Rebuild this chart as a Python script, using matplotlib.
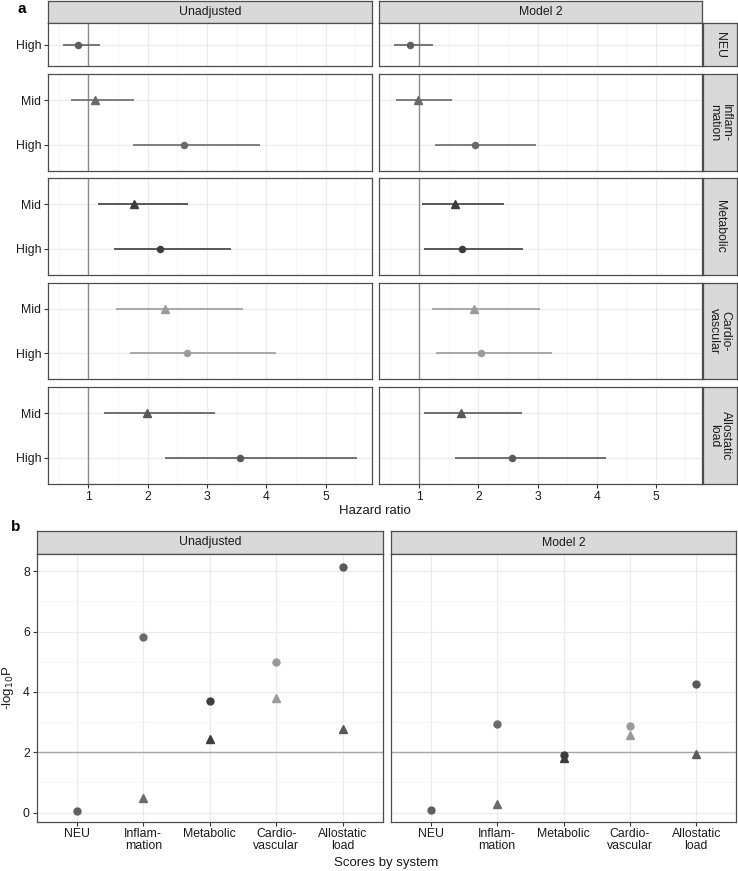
import numpy as np
import matplotlib
matplotlib.use("Agg")
import matplotlib.pyplot as plt
from matplotlib.ticker import MultipleLocator, FixedLocator

plt.rcParams['font.family'] = ['Liberation Sans', 'DejaVu Sans']

# ---------------- data ----------------
systems = ['NEU', 'Inflammation', 'Metabolic', 'Cardiovascular', 'Allostatic load']
strip_labels = ['NEU', 'Inflam-\nmation', 'Metabolic', 'Cardio-\nvascular', 'Allostatic\nload']
xtick_labels_b = ['NEU', 'Inflam-\nmation', 'Metabolic', 'Cardio-\nvascular', 'Allostatic\nload']
models = ['Unadjusted', 'Model 2']
levels = ['Mid', 'High']
nan = np.nan

hr_unadj_high = [0.82, 2.61, 2.20, 2.66, 3.56]
lo_unadj_high = [0.57, 1.75, 1.43, 1.70, 2.30]
hi_unadj_high = [1.19, 3.90, 3.40, 4.17, 5.53]
hr_unadj_mid = [nan, 1.11, 1.77, 2.29, 1.98]
lo_unadj_mid = [nan, 0.70, 1.17, 1.47, 1.26]
hi_unadj_mid = [nan, 1.77, 2.68, 3.60, 3.13]

hr_m2_high = [0.85, 1.94, 1.72, 2.05, 2.57]
lo_m2_high = [0.58, 1.27, 1.08, 1.29, 1.60]
hi_m2_high = [1.23, 2.97, 2.75, 3.25, 4.15]
hr_m2_mid = [nan, 0.98, 1.60, 1.92, 1.71]
lo_m2_mid = [nan, 0.61, 1.05, 1.21, 1.08]
hi_m2_mid = [nan, 1.56, 2.43, 3.04, 2.73]

logp_unadj_high = [0.07, 5.83, 3.70, 5.00, 8.15]
logp_unadj_mid = [nan, 0.50, 2.45, 3.80, 2.78]
logp_m2_high = [0.09, 2.93, 1.90, 2.87, 4.26]
logp_m2_mid = [nan, 0.29, 1.81, 2.56, 1.94]

hr_ticks = [1, 2, 3, 4, 5]
logp_ticks = [0, 2, 4, 6, 8]

sys_colors = ['#5f5f5f', '#6a6a6a', '#3d3d3d', '#9a9a9a', '#595959']

# ---------------- layout ----------------
W, H = 738, 871
fig = plt.figure(figsize=(W / 100, H / 100), dpi=100)

def ax_at(x0, y0, x1, y1):
    return fig.add_axes([x0 / W, 1 - y1 / H, (x1 - x0) / W, (y1 - y0) / H])

BORDER = '#4d4d4d'
GRID_MAJ = '#ebebeb'
GRID_MIN = '#f4f4f4'
TXT = '#1a1a1a'
FS = 8.8
FS_TITLE = 9.5

def style_panel(ax):
    ax.set_facecolor('white')
    for s in ax.spines.values():
        s.set_color(BORDER)
        s.set_linewidth(0.9)
    ax.tick_params(axis='both', which='major', length=3, width=0.8, color='#333333',
                   labelsize=FS, labelcolor=TXT, pad=2)
    ax.tick_params(axis='both', which='minor', length=0)
    ax.set_axisbelow(True)

def strip(x0, y0, x1, y1, text, rot=0):
    s = ax_at(x0, y0, x1, y1)
    s.set_facecolor('#d9d9d9')
    for sp in s.spines.values():
        sp.set_color(BORDER)
        sp.set_linewidth(0.9)
    s.set_xticks([]); s.set_yticks([])
    s.text(0.5, 0.5, text, ha='center', va='center', rotation=rot,
           fontsize=FS, color=TXT, transform=s.transAxes, linespacing=0.95)
    return s

# ---------- panel a ----------
col_x = [(48, 372), (379, 702)]
rows_y = [(23, 66.5), (74, 171), (178, 275), (283, 379), (387, 484)]
px_per_level = 44.4

data_a = [
    (hr_unadj_high, lo_unadj_high, hi_unadj_high, hr_unadj_mid, lo_unadj_mid, hi_unadj_mid),
    (hr_m2_high, lo_m2_high, hi_m2_high, hr_m2_mid, lo_m2_mid, hi_m2_mid),
]

for c, (x0, x1) in enumerate(col_x):
    strip(x0, 1, x1, 23, models[c])
    hh, hl, hu, mh, ml, mu = data_a[c]
    for r, (y0, y1) in enumerate(rows_y):
        ax = ax_at(x0, y0, x1, y1)
        style_panel(ax)
        ax.set_xlim(0.32, 5.78)
        span = (y1 - y0) / px_per_level
        if r > 0:
            ax.set_ylim(1.5 - span / 2, 1.5 + span / 2)
        else:
            ax.set_ylim(1 - span / 2, 1 + span / 2)
        ax.xaxis.set_major_locator(FixedLocator(hr_ticks))
        ax.xaxis.set_minor_locator(MultipleLocator(0.5))
        ax.grid(True, which='major', color=GRID_MAJ, lw=0.9)
        ax.grid(True, which='minor', axis='x', color=GRID_MIN, lw=0.6)
        ax.axvline(1, color='#8c8c8c', lw=1.0, zorder=1)
        col = sys_colors[r]
        ypos = []
        labs = []
        if not np.isnan(mh[r]):
            ax.hlines(2, ml[r], mu[r], color=col, lw=1.2, zorder=2)
            ax.plot([mh[r]], [2], marker='^', ms=5.2, color=col, ls='none', zorder=3)
            ypos.append(2); labs.append('Mid')
        ax.hlines(1, hl[r], hu[r], color=col, lw=1.2, zorder=2)
        ax.plot([hh[r]], [1], marker='o', ms=4.4, color=col, ls='none', zorder=3)
        ypos.append(1); labs.append('High')
        ax.set_yticks(ypos)
        if c == 0:
            ax.set_yticklabels(labs)
        else:
            ax.tick_params(axis='y', length=0, labelleft=False)
        if r == len(rows_y) - 1:
            ax.set_xticklabels([str(t) for t in hr_ticks])
        else:
            ax.tick_params(axis='x', length=0, labelbottom=False)
        if c == 1:
            strip(703, y0, 737, y1, strip_labels[r], rot=-90)

fig.text(375 / W, 1 - 511 / H, 'Hazard ratio', ha='center', va='center', fontsize=FS_TITLE, color=TXT)
fig.text(18 / W, 1 - 9 / H, 'a', ha='left', va='center', fontsize=11, fontweight='bold')

# ---------- panel b ----------
colb_x = [(36.7, 383), (391, 736)]
data_b = [(logp_unadj_high, logp_unadj_mid), (logp_m2_high, logp_m2_mid)]
xs = np.arange(1, len(systems) + 1)
for c, (x0, x1) in enumerate(colb_x):
    strip(x0, 531, x1, 554, models[c])
    ax = ax_at(x0, 554, x1, 821.7)
    style_panel(ax)
    ax.set_xlim(0.4, 5.6)
    ax.set_ylim(-0.3, 8.57)
    ax.set_xticks(xs)
    ax.set_xticklabels(xtick_labels_b, linespacing=1.05)
    ax.tick_params(axis='x', pad=1.5)
    ax.yaxis.set_major_locator(FixedLocator(logp_ticks))
    ax.yaxis.set_minor_locator(MultipleLocator(1))
    ax.grid(True, which='major', color=GRID_MAJ, lw=0.9)
    ax.grid(True, which='minor', axis='y', color=GRID_MIN, lw=0.6)
    ax.axhline(2, color='#a6a6a6', lw=1.0, zorder=1)
    high, mid = data_b[c]
    for i in range(len(systems)):
        if not np.isnan(mid[i]):
            ax.plot([xs[i]], [mid[i]], marker='^', ms=6, color=sys_colors[i], ls='none', zorder=3)
        ax.plot([xs[i]], [high[i]], marker='o', ms=5, color=sys_colors[i], ls='none', zorder=3)
    if c == 0:
        ax.set_yticklabels([str(t) for t in logp_ticks])
        ax.set_ylabel('-log$_{10}$P', fontsize=FS_TITLE, color=TXT, labelpad=5)
    else:
        ax.tick_params(axis='y', length=0, labelleft=False)

fig.text(386 / W, 1 - 863 / H, 'Scores by system', ha='center', va='center', fontsize=FS_TITLE, color=TXT)
fig.text(11 / W, 1 - 527 / H, 'b', ha='left', va='center', fontsize=11, fontweight='bold')

fig.savefig('out.png', dpi=100)
